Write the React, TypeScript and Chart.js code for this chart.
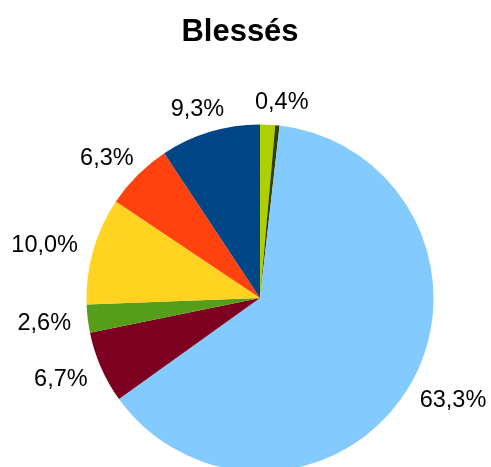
import React, { useEffect, useRef } from "react";
import { Chart, registerables } from "chart.js";

Chart.register(...registerables);

const TITLE = "Blessés";
// Slices listed clockwise from 12 o'clock
const categories = ["Série 8", "Série 7", "Série 6", "Série 5", "Série 4", "Série 3", "Série 2", "Série 1"];
const values = [1.4, 0.4, 63.3, 6.7, 2.6, 10.0, 6.3, 9.3];
const valueLabels = ["", "0,4%", "63,3%", "6,7%", "2,6%", "10,0%", "6,3%", "9,3%"];
const colors = ["#aecf00", "#314004", "#83caff", "#7e0021", "#579d1c", "#ffd320", "#ff420e", "#004586"];

const FONT = "'Liberation Sans', Arial, sans-serif";

const titlePlugin = {
  id: "customTitle",
  afterDraw(chart: any) {
    const ctx = chart.ctx;
    ctx.save();
    ctx.font = `bold 31px ${FONT}`;
    ctx.fillStyle = "#000";
    ctx.textAlign = "center";
    ctx.textBaseline = "alphabetic";
    ctx.fillText(TITLE, 240, 41);
    ctx.restore();
  },
};

const labelPlugin = {
  id: "outsideLabels",
  afterDatasetsDraw(chart: any) {
    const ctx = chart.ctx;
    const meta = chart.getDatasetMeta(0);
    ctx.save();
    const size = 23.5;
    ctx.font = `${size}px ${FONT}`;
    ctx.fillStyle = "#000";
    ctx.textAlign = "center";
    ctx.textBaseline = "alphabetic";
    const h = size * 0.716;
    const gap = 17;
    meta.data.forEach((arc: any, i: number) => {
      const text = valueLabels[i];
      if (!text) return;
      const p = arc.getProps(["x", "y", "startAngle", "endAngle", "outerRadius"], true);
      const mid = (p.startAngle + p.endAngle) / 2;
      const dx = Math.cos(mid);
      const dy = Math.sin(mid);
      const w = ctx.measureText(text).width;
      const cx = p.x + dx * (p.outerRadius + gap) + (dx * w) / 2;
      const cy = p.y + dy * (p.outerRadius + gap) + (dy * h) / 2;
      ctx.fillText(text, cx, cy + h / 2);
    });
    ctx.restore();
  },
};

export default function App() {
  const ref = useRef<HTMLCanvasElement>(null);
  useEffect(() => {
    if (!ref.current) return;
    const chart = new Chart(ref.current, {
      type: "pie",
      data: {
        labels: categories,
        datasets: [
          {
            data: values,
            backgroundColor: colors,
            borderWidth: 0,
            clip: false as any,
          },
        ],
      },
      options: {
        animation: false,
        responsive: false,
        radius: 173.5,
        layout: { padding: { left: 29, right: 0, top: 129, bottom: 0 } },
        plugins: {
          legend: { display: false },
          title: { display: false },
          tooltip: { enabled: false },
        },
      },
      plugins: [titlePlugin, labelPlugin],
    });
    return () => chart.destroy();
  }, []);
  return (
    <div style={{ position: "absolute", left: 0, top: 0, width: 491, height: 467, background: "#fff" }}>
      <canvas ref={ref} width={491} height={467} style={{ display: "block" }} />
    </div>
  );
}
